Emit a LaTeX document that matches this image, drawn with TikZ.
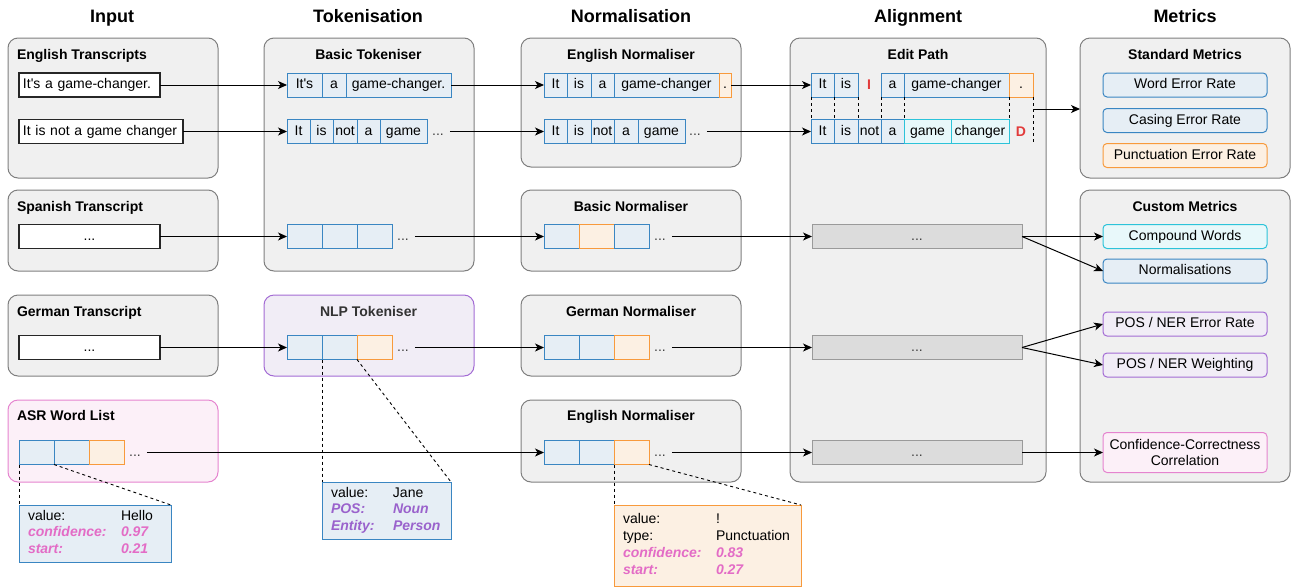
\documentclass[tikz,border=0pt]{standalone}
\usepackage{fontspec}
\setmainfont{Liberation Sans}
\usetikzlibrary{arrows.meta}
\definecolor{boxgray}{HTML}{F0F0F0}
\definecolor{boxline}{HTML}{7F7F7F}
\definecolor{tokline}{HTML}{3A86C2}
\definecolor{tokfill}{HTML}{E6EEF5}
\definecolor{orgline}{HTML}{F89A3C}
\definecolor{orgfill}{HTML}{FCF0E3}
\definecolor{cyanline}{HTML}{2CC3D9}
\definecolor{cyanfill}{HTML}{E8F8FA}
\definecolor{purpline}{HTML}{A36BD4}
\definecolor{purpfill}{HTML}{F1EDF6}
\definecolor{pinkline}{HTML}{E584CF}
\definecolor{pinkfill}{HTML}{FCF0F8}
\definecolor{pinktext}{HTML}{E36CC6}
\definecolor{purptext}{HTML}{9A62CC}
\definecolor{errred}{HTML}{E23B3B}
\definecolor{alnfill}{HTML}{DCDCDC}
\definecolor{alnline}{HTML}{9A9A9A}
\begin{document}
\begin{tikzpicture}[x=1pt, y=-1pt, >={Stealth[length=9pt,width=8pt,inset=2.5pt]},
    every node/.style={font=\fontsize{14}{16.8}\selectfont, outer sep=0pt},
    head/.style={font=\fontsize{18}{20}\selectfont\bfseries, inner sep=0pt, anchor=base},
    ttl/.style={font=\fontsize{14}{16}\selectfont\bfseries, inner sep=0pt, anchor=base},
    cont/.style={draw=boxline, fill=boxgray, line width=1pt, rounded corners=10pt, anchor=north west},
    tok/.style={draw=tokline, fill=tokfill, line width=1pt, minimum height=24pt, inner sep=0pt, text height=9.8pt, text depth=2.6pt, anchor=west},
    otok/.style={tok, draw=orgline, fill=orgfill},
    ctok/.style={tok, draw=cyanline, fill=cyanfill},
    dots/.style={inner xsep=6pt, inner ysep=0pt, text height=9.8pt, text depth=2.6pt, text=black!75},
    wbox/.style={draw=black!85, fill=white, line width=1.2pt, minimum height=24pt, anchor=west, inner xsep=4pt, text height=9.8pt, text depth=2.6pt},
    gbox/.style={draw=alnline, fill=alnfill, line width=1pt, minimum width=210pt, minimum height=24pt, text height=9.8pt, text depth=2.6pt, text=black!75},
    metric/.style={draw=tokline, fill=tokfill, line width=1pt, rounded corners=4pt, minimum width=164pt, minimum height=24pt, text height=9.8pt, text depth=2.6pt},
    pop/.style={draw=tokline, fill=tokfill, line width=1pt, anchor=north west},
    link/.style={->, line width=1pt},
    lead/.style={dash pattern=on 3pt off 3pt, line width=0.9pt}]
\useasboundingbox (0,0) rectangle (1295,587);

\node[head] (hIn) at (112,22.5) {Input};
\node[head] (hTok) at (368,22.5) {Tokenisation};
\node[head] (hNorm) at (631,22.5) {Normalisation};
\node[head] (hAlign) at (918,22.5) {Alignment};
\node[head] (hMet) at (1185,22.5) {Metrics};

\node[cont, minimum width=210, minimum height=140] (cEng) at (8,38) {};
\node[cont, minimum width=210, minimum height=81] (cSpa) at (8,190) {};
\node[cont, minimum width=210, minimum height=81] (cGer) at (8,295) {};
\node[cont, draw=pinkline, fill=pinkfill, minimum width=210, minimum height=82] (cAsr) at (8,400) {};
\node[cont, minimum width=210, minimum height=233] (cBtok) at (264,38) {};
\node[cont, draw=purpline, fill=purpfill, minimum width=210, minimum height=81] (cNlp) at (264,295) {};
\node[cont, minimum width=220, minimum height=129] (cEnNa) at (521,38) {};
\node[cont, minimum width=220, minimum height=81] (cBnorm) at (521,190) {};
\node[cont, minimum width=220, minimum height=81] (cGnorm) at (521,295) {};
\node[cont, minimum width=220, minimum height=82] (cEnNb) at (521,400) {};
\node[cont, minimum width=256, minimum height=444] (cEdit) at (790,38) {};
\node[cont, minimum width=210, minimum height=140] (cStd) at (1080,38) {};
\node[cont, minimum width=210, minimum height=292] (cCus) at (1080,190) {};

\node[ttl, anchor=base west] (lEng) at (17,59) {English Transcripts};
\node[ttl, anchor=base west] (lSpa) at (17,211) {Spanish Transcript};
\node[ttl, anchor=base west] (lGer) at (17,316) {German Transcript};
\node[ttl, anchor=base west] (lAsr) at (17,420) {ASR Word List};
\node[ttl] (lBtok) at (368.5,59) {Basic Tokeniser};
\node[ttl, text=black!80] (lNlp) at (368.5,316) {NLP Tokeniser};
\node[ttl] (lEnNa) at (631,59) {English Normaliser};
\node[ttl] (lBnorm) at (631,211) {Basic Normaliser};
\node[ttl] (lGnorm) at (631,316) {German Normaliser};
\node[ttl] (lEnNb) at (631,420) {English Normaliser};
\node[ttl] (lEdit) at (918,59) {Edit Path};
\node[ttl] (lStd) at (1185,59) {Standard Metrics};
\node[ttl] (lCus) at (1185,211) {Custom Metrics};

% inputs
\node[wbox, text width=133, align=left] (wEng1) at (19,85) {It\textquotesingle s a game-changer.};
\node[wbox, text width=156, align=left] (wEng2) at (19,131.5) {It is not a game changer};
\node[wbox, minimum width=141] (wSpa) at (19,236.5) {...};
\node[wbox, minimum width=141] (wGer) at (19,347.5) {...};
\node[tok, minimum width=35] (as1) at (19,452.5) {};
\node[tok, minimum width=35] (as2) at (54,452.5) {};
\node[otok, minimum width=35] (as3) at (89,452.5) {};
\node[dots] (asd) at (135,452.5) {...};

% tokenisers
\node[tok, minimum width=35] (bt1) at (287,85) {It\textquotesingle s};
\node[tok, minimum width=24] (bt2) at (322,85) {a};
\node[tok, minimum width=105] (bt3) at (346,85) {game-changer.};
\node[tok, minimum width=23] (bu1) at (287,131.5) {It};
\node[tok, minimum width=23] (bu2) at (310,131.5) {is};
\node[tok, minimum width=24] (bu3) at (333,131.5) {not};
\node[tok, minimum width=23] (bu4) at (357,131.5) {a};
\node[tok, minimum width=47] (bu5) at (380,131.5) {game};
\node[dots] (bud) at (438,131.5) {...};
\node[tok, minimum width=35] (bs1) at (287,236.5) {};
\node[tok, minimum width=35] (bs2) at (322,236.5) {};
\node[tok, minimum width=35] (bs3) at (357,236.5) {};
\node[dots] (bsd) at (403,236.5) {...};
\node[tok, minimum width=35] (nt1) at (287,347.5) {};
\node[tok, minimum width=35] (nt2) at (322,347.5) {};
\node[otok, minimum width=35] (nt3) at (357,347.5) {};
\node[dots] (ntd) at (403,347.5) {...};

% normalisers
\node[tok, minimum width=23] (en1) at (544,85) {It};
\node[tok, minimum width=24] (en2) at (567,85) {is};
\node[tok, minimum width=23] (en3) at (591,85) {a};
\node[tok, minimum width=105] (en4) at (614,85) {game-changer};
\node[otok, minimum width=12] (en5) at (719,85) {.};
\node[tok, minimum width=23] (eo1) at (544,131.5) {It};
\node[tok, minimum width=24] (eo2) at (567,131.5) {is};
\node[tok, minimum width=23] (eo3) at (591,131.5) {not};
\node[tok, minimum width=24] (eo4) at (614,131.5) {a};
\node[tok, minimum width=47] (eo5) at (638,131.5) {game};
\node[dots] (eod) at (695,131.5) {...};
\node[tok, minimum width=35] (bn1) at (544,236.5) {};
\node[otok, minimum width=35] (bn2) at (579,236.5) {};
\node[tok, minimum width=35] (bn3) at (614,236.5) {};
\node[dots] (bnd) at (660,236.5) {...};
\node[tok, minimum width=35] (gn1) at (544,347.5) {};
\node[tok, minimum width=35] (gn2) at (579,347.5) {};
\node[otok, minimum width=35] (gn3) at (614,347.5) {};
\node[dots] (gnd) at (660,347.5) {...};
\node[tok, minimum width=35] (eb1) at (544,452.5) {};
\node[tok, minimum width=35] (eb2) at (579,452.5) {};
\node[otok, minimum width=35] (eb3) at (614,452.5) {};
\node[dots] (ebd) at (660,452.5) {...};

% edit path
\node[tok, minimum width=23] (ep1) at (811,85) {It};
\node[tok, minimum width=24] (ep2) at (834,85) {is};
\node[text=errred, font=\fontsize{14}{16.8}\selectfont\bfseries] (epI) at (869,85) {I};
\node[tok, minimum width=23] (ep3) at (881,85) {a};
\node[tok, minimum width=105] (ep4) at (904,85) {game-changer};
\node[otok, minimum width=24] (ep5) at (1009,85) {.};
\node[tok, minimum width=23] (eq1) at (811,131.5) {It};
\node[tok, minimum width=24] (eq2) at (834,131.5) {is};
\node[tok, minimum width=23] (eq3) at (858,131.5) {not};
\node[tok, minimum width=23] (eq4) at (881,131.5) {a};
\node[ctok, minimum width=47] (eq5) at (904,131.5) {game};
\node[ctok, minimum width=58] (eq6) at (951,131.5) {changer};
\node[text=errred, font=\fontsize{14}{16.8}\selectfont\bfseries] (eqD) at (1021,131.5) {D};
\draw[lead] (ep1.south west) -- (eq1.north west);
\draw[lead] (ep2.south west) -- (eq2.north west);
\draw[lead] (ep2.south east) -- (eq3.north west);
\draw[lead] (ep3.south west) -- (eq4.north west);
\draw[lead] (ep4.south west) -- (eq5.north west);
\draw[lead] (ep4.south east) -- (eq6.north east);
\draw[lead] (ep5.south east) -- (ep5.south east |- eq6.south);
\coordinate (epOut) at (1033,109);
\node[gbox] (al1) at (917,236.5) {...};
\node[gbox] (al2) at (917,347.5) {...};
\node[gbox] (al3) at (917,452.5) {...};

% metrics
\node[metric] (mWer) at (1185,85) {Word Error Rate};
\node[metric] (mCer) at (1185,120.5) {Casing Error Rate};
\node[metric, draw=orgline, fill=orgfill] (mPer) at (1185,155.5) {Punctuation Error Rate};
\node[metric, draw=cyanline, fill=cyanfill] (mCmp) at (1185,236.5) {Compound Words};
\node[metric] (mNrm) at (1185,271) {Normalisations};
\node[metric, draw=purpline, fill=purpfill] (mPne) at (1185,324) {POS / NER Error Rate};
\node[metric, draw=purpline, fill=purpfill] (mPnw) at (1185,365) {POS / NER Weighting};
\node[draw=pinkline, fill=pinkfill, line width=1pt, rounded corners=4pt, minimum width=164, minimum height=40, align=center] (mCcc) at (1185,452.5) {Confidence-Correctness\\Correlation};

% detail boxes
\node[pop, minimum width=152, minimum height=57] (pAsr) at (19,505) {\begin{tabular}{@{}p{93pt}@{}p{41pt}@{}}
value: & Hello\\
\textcolor{pinktext}{\bfseries\itshape confidence:} & \textcolor{pinktext}{\bfseries\itshape 0.97}\\
\textcolor{pinktext}{\bfseries\itshape start:} & \textcolor{pinktext}{\bfseries\itshape 0.21}
\end{tabular}};
\node[pop, minimum width=129, minimum height=57] (pNlp) at (322,482) {\begin{tabular}{@{}p{62pt}@{}p{49pt}@{}}
value: & Jane\\
\textcolor{purptext}{\bfseries\itshape POS:} & \textcolor{purptext}{\bfseries\itshape Noun}\\
\textcolor{purptext}{\bfseries\itshape Entity:} & \textcolor{purptext}{\bfseries\itshape Person}
\end{tabular}};
\node[pop, draw=orgline, fill=orgfill, minimum width=187, minimum height=81] (pEng) at (614,505) {\begin{tabular}{@{}p{93pt}@{}p{76pt}@{}}
value: & !\\
type: & Punctuation\\
\textcolor{pinktext}{\bfseries\itshape confidence:} & \textcolor{pinktext}{\bfseries\itshape 0.83}\\
\textcolor{pinktext}{\bfseries\itshape start:} & \textcolor{pinktext}{\bfseries\itshape 0.27}
\end{tabular}};
\draw[lead] (as1.south west) -- (pAsr.north west);
\draw[lead] (as1.south east) -- (pAsr.north east);
\draw[lead] (nt2.south west) -- (pNlp.north west);
\draw[lead] (nt2.south east) -- (pNlp.north east);
\draw[lead] (eb3.south west) -- (pEng.north west);
\draw[lead] (eb3.south east) -- (pEng.north east);

% connectors
\draw[link] (wEng1.east) -- (bt1.west);
\draw[link] (wEng2.east) -- (bu1.west);
\draw[link] (bt3.east) -- (en1.west);
\draw[link] (bud.east) -- (eo1.west);
\draw[link] (en5.east) -- (ep1.west);
\draw[link] (eod.east) -- (eq1.west);
\draw[link] (wSpa.east) -- (bs1.west);
\draw[link] (bsd.east) -- (bn1.west);
\draw[link] (bnd.east) -- (al1.west);
\draw[link] (wGer.east) -- (nt1.west);
\draw[link] (ntd.east) -- (gn1.west);
\draw[link] (gnd.east) -- (al2.west);
\draw[link] (asd.east) -- (eb1.west);
\draw[link] (ebd.east) -- (al3.west);
\draw[link] (epOut) -- (epOut -| cStd.west);
\draw[link] (al1.east) -- (mCmp.west);
\draw[link] (al1.east) -- (mNrm.west);
\draw[link] (al2.east) -- (mPne.west);
\draw[link] (al2.east) -- (mPnw.west);
\draw[link] (al3.east) -- (mCcc.west);
\end{tikzpicture}
\end{document}
